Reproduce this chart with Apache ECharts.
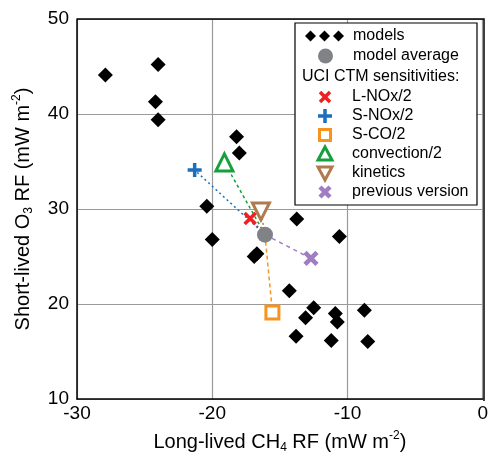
<!DOCTYPE html>
<html>
<head>
<meta charset="utf-8">
<script src="https://cdn.jsdelivr.net/npm/echarts@6/dist/echarts.min.js"></script>
<style>
html,body{margin:0;padding:0;background:#fff;}
#c{width:491px;height:459px;}
</style>
</head>
<body>
<div id="c"></div>
<script>
// ---- data ----
var modelsX = [-27.9, -24.0, -24.2, -24.0, -18.2, -18.0, -20.4, -20.0, -16.7, -16.9, -13.75, -10.6, -14.3, -12.5, -13.1, -10.9, -10.75, -8.75, -13.8, -11.2, -8.5];
var modelsY = [44.1, 45.2, 41.3, 39.4, 37.6, 35.9, 30.3, 26.8, 25.3, 25.0, 28.95, 27.1, 21.4, 19.6, 18.55, 19.0, 18.1, 19.35, 16.6, 16.15, 16.05];
var averageXY = [-16.1, 27.3];
var sensNames = ['L-NOx/2', 'S-NOx/2', 'S-CO/2', 'convection/2', 'kinetics', 'previous version'];
var sensX = [-17.2, -21.3, -15.55, -19.1, -16.4, -12.7];
var sensY = [29.0, 34.1, 19.1, 34.9, 29.75, 24.8];
var xTicks = [-30, -20, -10, 0];
var yTicks = [10, 20, 30, 40, 50];

var sensColors = ['#ee2020', '#1a70bd', '#f7941d', '#16a03c', '#b07a4e', '#a07cc4'];
var sensSymbols = [
  'path://M0,0L10,10M10,0L0,10',
  'path://M5,0L5,10M0,5L10,5',
  'rect',
  'triangle',
  'path://M0,0L10,0L5,9Z',
  'path://M0,0L10,10M10,0L0,10'
];
var sensSizes = [11, 14, 13, 17, 17, 12];
var sensBorder = [3.5, 3.5, 3, 3, 3, 4.5];
var sensFill = ['transparent', 'transparent', '#fff', '#fff', '#fff', 'transparent'];
var lineDash = [[2, 3], [2, 3], [4, 3], [3, 3], [2, 3], [4, 4]];

var FONT = '"Liberation Sans", Arial, Helvetica, sans-serif';

var series = [];
for (var i = 0; i < sensNames.length; i++) {
  series.push({
    type: 'line', silent: true, symbol: 'none', z: 1,
    data: [[averageXY[0], averageXY[1]], [sensX[i], sensY[i]]],
    lineStyle: {color: sensColors[i], width: 1.5, type: lineDash[i]}
  });
}
series.push({
  name: 'models', type: 'scatter', symbol: 'diamond', symbolSize: 15, z: 3,
  itemStyle: {color: '#000', opacity: 1},
  data: modelsX.map(function (x, k) { return [x, modelsY[k]]; })
});
series.push({
  name: 'model average', type: 'scatter', symbol: 'circle', symbolSize: 16, z: 4,
  itemStyle: {color: '#808285', opacity: 1},
  data: [averageXY]
});
for (var j = 0; j < sensNames.length; j++) {
  series.push({
    name: sensNames[j], type: 'scatter', symbol: sensSymbols[j], symbolSize: sensSizes[j], z: 5,
    itemStyle: {color: sensFill[j], borderColor: sensColors[j], borderWidth: sensBorder[j], opacity: 1},
    data: [[sensX[j], sensY[j]]]
  });
}

// legend drawn as graphic
var LX = 295, LY = 23, LW = 182, LH = 182;
var gEls = [{type: 'rect', shape: {x: LX, y: LY, width: LW, height: LH}, style: {fill: '#fff', stroke: '#000', lineWidth: 1.2}, z: 10}];
function dia(cx, cy, r) {
  return {type: 'polygon', shape: {points: [[cx, cy - r], [cx + r, cy], [cx, cy + r], [cx - r, cy]]}, style: {fill: '#000'}, z: 11};
}
function txt(x, y, s) {
  return {type: 'text', x: x, y: y, style: {text: s, fill: '#000', font: '16px ' + FONT, textVerticalAlign: 'middle', verticalAlign: 'middle'}, z: 11};
}
gEls.push(dia(310.5, 36, 5.5), dia(324.5, 36, 5.5), dia(338.5, 36, 5.5));
gEls.push(txt(353, 36, 'models'));
gEls.push({type: 'circle', shape: {cx: 325.5, cy: 56, r: 7.5}, style: {fill: '#808285'}, z: 11});
gEls.push(txt(353, 56, 'model average'));
gEls.push(txt(302, 77, 'UCI CTM sensitivities:'));
var rowY = [97, 116, 135, 154, 173, 192];
var sx = 325;
gEls.push({type: 'polyline', shape: {points: [[sx - 5, rowY[0] - 5], [sx + 5, rowY[0] + 5]]}, style: {stroke: sensColors[0], lineWidth: 3.5, fill: null}, z: 11});
gEls.push({type: 'polyline', shape: {points: [[sx + 5, rowY[0] - 5], [sx - 5, rowY[0] + 5]]}, style: {stroke: sensColors[0], lineWidth: 3.5, fill: null}, z: 11});
gEls.push({type: 'polyline', shape: {points: [[sx, rowY[1] - 7], [sx, rowY[1] + 7]]}, style: {stroke: sensColors[1], lineWidth: 3.5, fill: null}, z: 11});
gEls.push({type: 'polyline', shape: {points: [[sx - 7, rowY[1]], [sx + 7, rowY[1]]]}, style: {stroke: sensColors[1], lineWidth: 3.5, fill: null}, z: 11});
gEls.push({type: 'rect', shape: {x: sx - 5.5, y: rowY[2] - 5.5, width: 11, height: 11}, style: {fill: '#fff', stroke: sensColors[2], lineWidth: 3}, z: 11});
gEls.push({type: 'polygon', shape: {points: [[sx, rowY[3] - 7], [sx + 7, rowY[3] + 6], [sx - 7, rowY[3] + 6]]}, style: {fill: '#fff', stroke: sensColors[3], lineWidth: 3}, z: 11});
gEls.push({type: 'polygon', shape: {points: [[sx - 7, rowY[4] - 6], [sx + 7, rowY[4] - 6], [sx, rowY[4] + 7]]}, style: {fill: '#fff', stroke: sensColors[4], lineWidth: 3}, z: 11});
gEls.push({type: 'polyline', shape: {points: [[sx - 5, rowY[5] - 5], [sx + 5, rowY[5] + 5]]}, style: {stroke: sensColors[5], lineWidth: 4.5, fill: null}, z: 11});
gEls.push({type: 'polyline', shape: {points: [[sx + 5, rowY[5] - 5], [sx - 5, rowY[5] + 5]]}, style: {stroke: sensColors[5], lineWidth: 4.5, fill: null}, z: 11});
for (var r = 0; r < sensNames.length; r++) gEls.push(txt(352, rowY[r], sensNames[r]));
gEls.push({type: 'polyline', shape: {points: [[77, 19], [484, 19], [484, 401]]}, style: {stroke: '#000', lineWidth: 1.5, fill: null}, z: 9});

var richName = {
  a: {fontSize: 20, fontFamily: FONT, color: '#000', lineHeight: 24, verticalAlign: 'middle'},
  sub: {fontSize: 12, fontFamily: FONT, color: '#000', lineHeight: 24, verticalAlign: 'bottom'},
  sup: {fontSize: 12, fontFamily: FONT, color: '#000', lineHeight: 24, verticalAlign: 'top'}
};

var chart = echarts.init(document.getElementById('c'), null, {renderer: 'canvas'});
chart.setOption({
  animation: false,
  backgroundColor: '#fff',
  grid: {left: 77, right: 7, top: 19, bottom: 58, containLabel: false},
  xAxis: {
    type: 'value', min: xTicks[0], max: xTicks[xTicks.length - 1], interval: 10,
    axisLine: {show: true, onZero: false, lineStyle: {color: '#000', width: 1.5}},
    axisTick: {show: false},
    splitLine: {show: true, lineStyle: {color: '#9a9a9a', width: 1.2}},
    axisLabel: {color: '#000', fontSize: 19, fontFamily: FONT, margin: 5},
    name: '{a|Long-lived CH}{sub|4}{a| RF (mW m}{sup|-2}{a|)}',
    nameLocation: 'middle', nameGap: 31,
    nameTextStyle: {rich: richName}
  },
  yAxis: {
    type: 'value', min: yTicks[0], max: yTicks[yTicks.length - 1], interval: 10,
    axisLine: {show: true, onZero: false, lineStyle: {color: '#000', width: 1.5}},
    axisTick: {show: false},
    splitLine: {show: true, lineStyle: {color: '#9a9a9a', width: 1.2}},
    axisLabel: {color: '#000', fontSize: 19, fontFamily: FONT, margin: 8},
    name: '{a|Short-lived O}{sub|3}{a| RF (mW m}{sup|-2}{a|)}',
    nameLocation: 'middle', nameGap: 42,
    nameTextStyle: {rich: richName}
  },
  graphic: {elements: gEls},
  series: series
});
</script>
</body>
</html>
